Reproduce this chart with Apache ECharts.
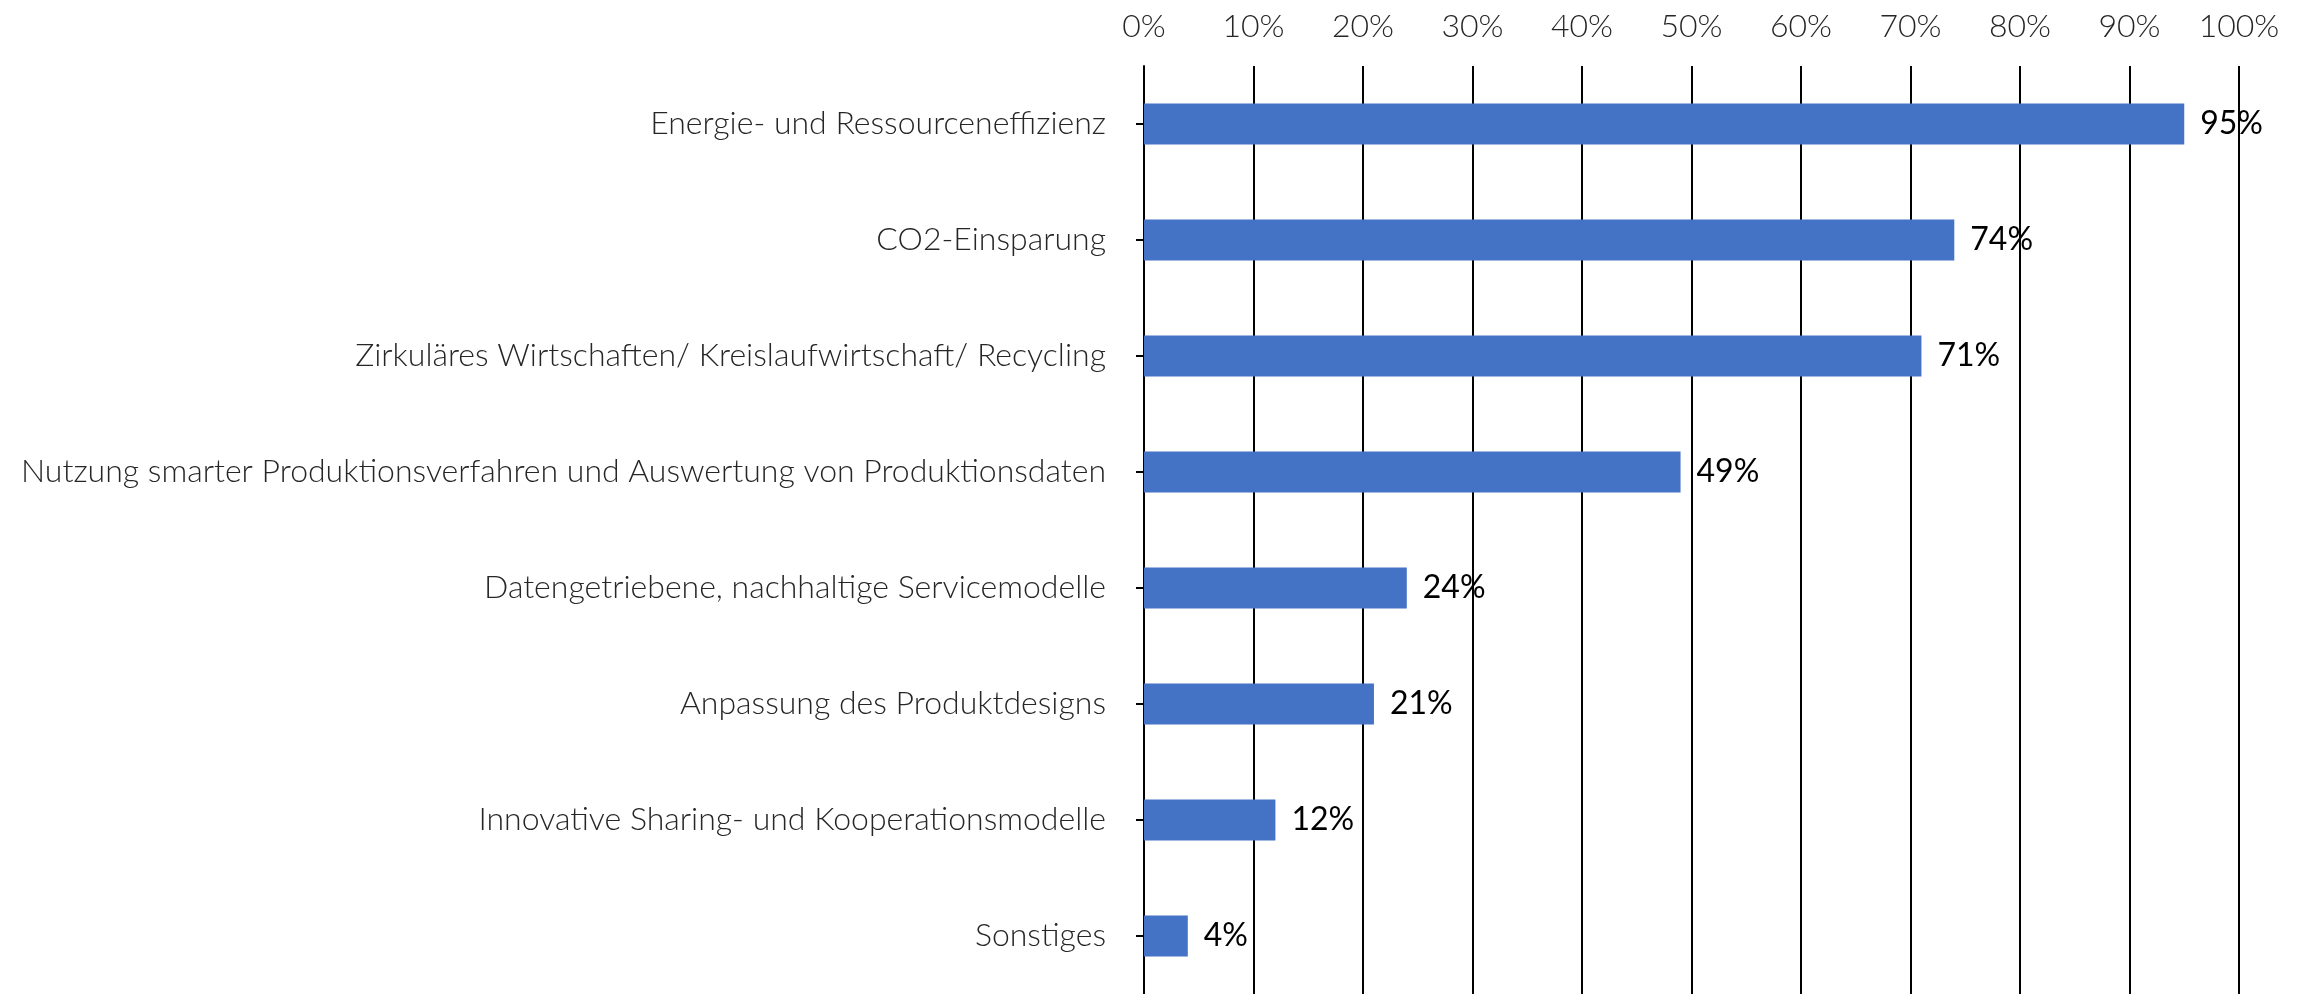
<!DOCTYPE html>
<html>
<head>
<meta charset="utf-8">
<script src="https://cdn.jsdelivr.net/npm/echarts@6/dist/echarts.min.js"></script>
<style>
  html, body { margin: 0; padding: 0; background: #fff; }
  #chart { width: 2310px; height: 994px; }
</style>
</head>
<body>
<div id="chart"></div>
<script>
const categories = [
  'Energie- und Ressourceneffizienz',
  'CO2-Einsparung',
  'Zirkuläres Wirtschaften/ Kreislaufwirtschaft/ Recycling',
  'Nutzung smarter Produktionsverfahren und Auswertung von Produktionsdaten',
  'Datengetriebene, nachhaltige Servicemodelle',
  'Anpassung des Produktdesigns',
  'Innovative Sharing- und Kooperationsmodelle',
  'Sonstiges'
];
const shares = [95, 74, 71, 49, 24, 21, 12, 4];

const chart = echarts.init(document.getElementById('chart'));
chart.setOption({
  animation: false,
  textStyle: { fontFamily: 'Lato' },
  grid: { left: 1144, right: 71, top: 66, bottom: -9, containLabel: false },
  xAxis: {
    type: 'value',
    position: 'top',
    min: 0,
    max: 100,
    interval: 10,
    axisLine: { show: false },
    axisTick: { show: false },
    axisLabel: {
      formatter: '{value}%',
      fontSize: 32,
      fontWeight: 300,
      color: '#262626',
      margin: 23
    },
    splitLine: { show: true, lineStyle: { color: '#000', width: 2 } }
  },
  yAxis: {
    type: 'category',
    inverse: true,
    data: categories,
    axisLine: { show: true, lineStyle: { color: '#000', width: 2 } },
    axisTick: { show: true, alignWithLabel: true, length: 8, lineStyle: { color: '#000', width: 2 } },
    axisLabel: {
      fontSize: 32,
      fontWeight: 300,
      color: '#262626',
      margin: 38
    }
  },
  series: [{
    type: 'bar',
    data: shares,
    barWidth: 41,
    itemStyle: { color: '#4472C4' },
    label: {
      show: true,
      position: 'right',
      distance: 16,
      formatter: '{c}%',
      fontSize: 32,
      color: '#000'
    }
  }]
});
</script>
</body>
</html>
